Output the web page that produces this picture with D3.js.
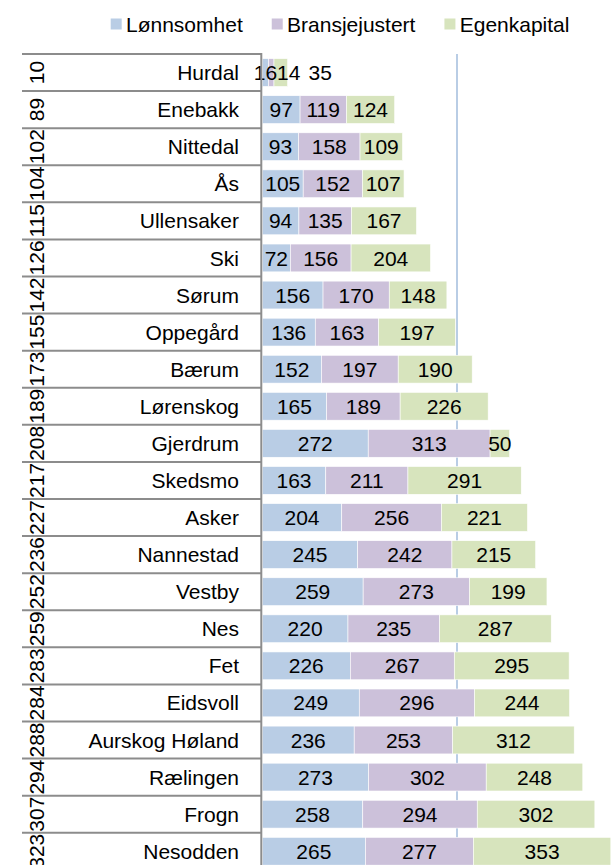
<!DOCTYPE html>
<html>
<head>
<meta charset="utf-8">
<script src="https://cdn.jsdelivr.net/npm/d3@7"></script>
<style>
  html, body { margin: 0; padding: 0; background: #fff; }
  svg { display: block; overflow: hidden; }
  text { font-family: "Liberation Sans", Arial, sans-serif; fill: #000; }
</style>
</head>
<body>
<svg id="chart" width="615" height="865"></svg>
<script>
// Municipalities, top to bottom, with their overall rank
const municipalities = ["Hurdal", "Enebakk", "Nittedal", "Ås", "Ullensaker", "Ski", "Sørum",
  "Oppegård", "Bærum", "Lørenskog", "Gjerdrum", "Skedsmo", "Asker", "Nannestad", "Vestby",
  "Nes", "Fet", "Eidsvoll", "Aurskog Høland", "Rælingen", "Frogn", "Nesodden"];
const ranks = [10, 89, 102, 104, 115, 126, 142, 155, 173, 189, 208, 217, 227, 236, 252, 259,
  283, 284, 288, 294, 307, 323];

// Rank components per municipality
const seriesNames = ["Lønnsomhet", "Bransjejustert", "Egenkapital"];
const lonnsomhet = [16, 97, 93, 105, 94, 72, 156, 136, 152, 165, 272, 163, 204, 245, 259, 220,
  226, 249, 236, 273, 258, 265];
const bransjejustert = [14, 119, 158, 152, 135, 156, 170, 163, 197, 189, 313, 211, 256, 242,
  273, 235, 267, 296, 253, 302, 294, 277];
const egenkapital = [35, 124, 109, 107, 167, 204, 148, 197, 190, 226, 50, 291, 221, 215, 199,
  287, 295, 244, 312, 248, 302, 353];
const gridTicks = [500];

const colors = ["#b9cde5", "#ccc1da", "#d7e4bd"];
const fontSize = 21;

const rows = municipalities.map((name, i) => ({
  name, rank: ranks[i],
  Lønnsomhet: lonnsomhet[i], Bransjejustert: bransjejustert[i], Egenkapital: egenkapital[i]
}));

const svg = d3.select("#chart");

const plotTop = 54, plotBottom = 869.8;
const x = d3.scaleLinear().domain([0, 1000]).range([262.3, 651.7]);
const y = d3.scaleBand().domain(municipalities).range([plotTop, plotBottom])
  .paddingInner(0.25).paddingOuter(0.125);

const stack = d3.stack().keys(seriesNames)(rows);

// Gridline behind the bars
svg.append("g").selectAll("line").data(gridTicks).join("line")
  .attr("x1", d => x(d)).attr("x2", d => x(d))
  .attr("y1", plotTop).attr("y2", plotBottom)
  .attr("stroke", "#b9cde5").attr("stroke-width", 2);

// Stacked bars
const layers = svg.append("g").selectAll("g").data(stack).join("g")
  .attr("fill", (d, i) => colors[i]);
layers.selectAll("rect").data(d => d).join("rect")
  .attr("x", d => x(d[0]))
  .attr("y", d => y(d.data.name))
  .attr("width", d => x(d[1]) - x(d[0]))
  .attr("height", y.bandwidth())
  .attr("stroke", "#fff").attr("stroke-width", 0.6);

// Value labels centred in each segment
const labelGroup = svg.append("g");
const labels = [];
stack.forEach((layer, li) => layer.forEach((d, ri) => {
  labels.push({ row: ri, layer: li, value: d[1] - d[0], cx: (x(d[0]) + x(d[1])) / 2,
    cy: y(d.data.name) + y.bandwidth() / 2 });
}));
const labelNodes = labelGroup.selectAll("text").data(labels).join("text")
  .attr("x", d => d.cx)
  .attr("y", d => d.cy)
  .attr("dy", "0.36em")
  .attr("text-anchor", "middle")
  .attr("font-size", fontSize)
  .text(d => d.value);

// Push labels right within a row when they would collide with the previous one
labelNodes.each(function (d) { d.w = this.getComputedTextLength(); });
d3.groups(labels, d => d.row).forEach(([, list]) => {
  list.sort((a, b) => a.layer - b.layer);
  let right = -Infinity;
  list.forEach((d, k) => {
    const gap = k === 0 ? 0 : (k === 1 ? 0 : 8);
    let left = d.cx - d.w / 2;
    if (left < right + gap) left = right + gap;
    d.cx = left + d.w / 2;
    right = left + d.w;
  });
});
labelNodes.attr("x", d => d.cx);

// Two-level category axis: row separators, names and rotated ranks
const axisX = x(0) - 1;
const axis = svg.append("g");
const bounds = d3.range(municipalities.length + 1)
  .map(i => plotTop + i * (plotBottom - plotTop) / municipalities.length);
axis.selectAll("line.sep").data(bounds).join("line")
  .attr("class", "sep")
  .attr("x1", 22).attr("x2", axisX)
  .attr("y1", d => d).attr("y2", d => d)
  .attr("stroke", "#8c8c8c").attr("stroke-width", 2);
axis.append("line")
  .attr("x1", axisX).attr("x2", axisX)
  .attr("y1", plotTop - 1).attr("y2", plotBottom)
  .attr("stroke", "#8c8c8c").attr("stroke-width", 2);

axis.selectAll("text.name").data(rows).join("text")
  .attr("class", "name")
  .attr("x", 239)
  .attr("y", d => y(d.name) + y.bandwidth() / 2)
  .attr("dy", "0.36em")
  .attr("text-anchor", "end")
  .attr("font-size", fontSize)
  .text(d => d.name);

axis.selectAll("text.rank").data(rows).join("text")
  .attr("class", "rank")
  .attr("transform", d => `translate(43.5,${y(d.name) + y.bandwidth() / 2}) rotate(-90)`)
  .attr("text-anchor", "middle")
  .attr("font-size", fontSize)
  .text(d => d.rank);

// Legend across the top
const legend = svg.append("g").attr("transform", "translate(110.7,0)");
let lx = 0;
seriesNames.forEach((s, i) => {
  const g = legend.append("g").attr("transform", `translate(${lx},0)`);
  g.append("rect").attr("x", 0).attr("y", 18.5).attr("width", 11).attr("height", 11)
    .attr("fill", colors[i]);
  const t = g.append("text").attr("x", 15.3).attr("y", 31.5)
    .attr("font-size", fontSize).text(s);
  lx += 15.3 + t.node().getComputedTextLength() + 29;
});
</script>
</body>
</html>
